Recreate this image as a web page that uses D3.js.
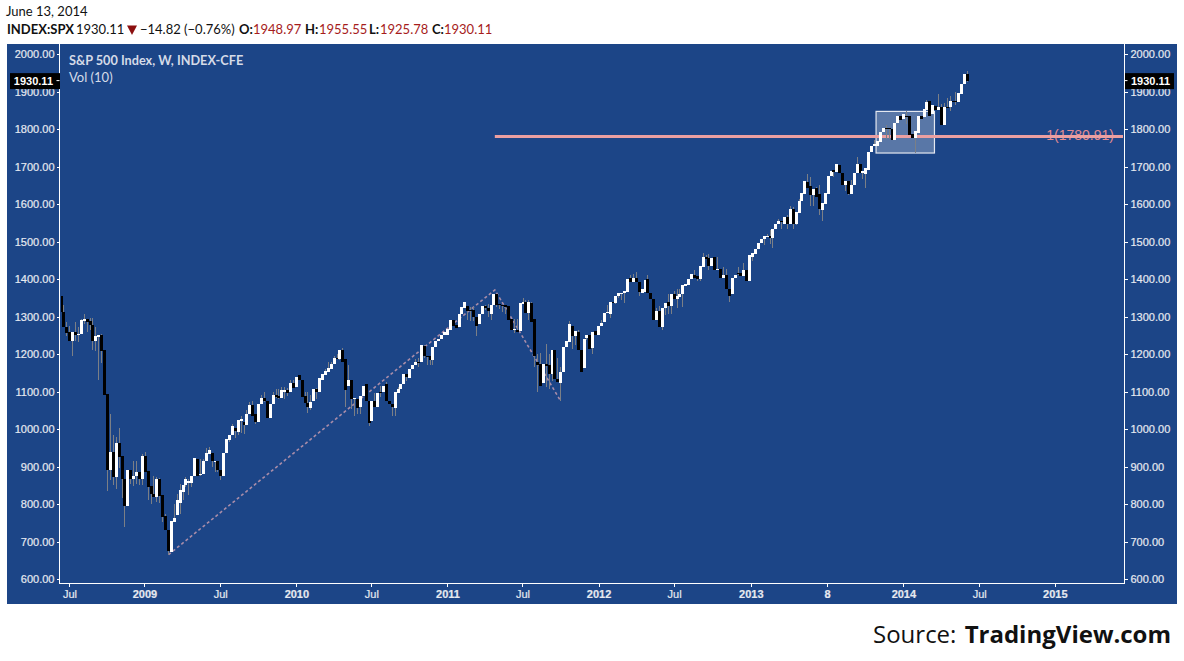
<!DOCTYPE html>
<html>
<head>
<meta charset="utf-8">
<script src="https://cdnjs.cloudflare.com/ajax/libs/d3/7.8.5/d3.min.js"></script>
<style>
  html, body { margin: 0; padding: 0; background: #fff; }
  svg { display: block; }
  .axis text { font-family: "Liberation Sans", Arial, sans-serif; font-size: 11px; fill: #e6e9f0; stroke: #e6e9f0; stroke-width: 0.2px; }
  .axis line, .axis path { stroke: #fff; shape-rendering: crispEdges; }
  .head { font-family: Lato, sans-serif; font-size: 13px; fill: #111; }
</style>
</head>
<body>
<div id="chart"></div>
<script>
// weekly S&P 500 candles
var opens = [
  1357,1314,1273,1259,1236,1259,1252,1255,1290,1295,
  1288,1279,1237,1246,1251,1211,1095,893,939,873,
  965,928,868,795,893,868,875,886,867,928,
  888,848,828,821,867,824,768,733,673,753,
  771,803,833,852,858,857,875,920,880,880,
  917,935,938,912,917,891,877,936,973,984,
  1005,993,1022,1021,1013,1040,1064,1042,1021,1068,
  1085,1077,1030,1067,1091,1090,1084,1100,1104,1099,
  1124,1113,1144,1133,1088,1070,1058,1075,1107,1099,
  1133,1145,1153,1162,1175,1191,1187,1213,1187,1117,
  1133,1080,1082,1061,1088,1120,1076,1022,1075,1061,
  1100,1101,1120,1075,1069,1057,1097,1107,1122,1147,
  1138,1162,1171,1181,1179,1222,1196,1195,1184,1220,
  1237,1241,1252,1251,1264,1291,1279,1273,1307,1324,
  1328,1319,1319,1300,1280,1308,1330,1325,1308,1332,
  1362,1335,1332,1331,1328,1295,1267,1266,1262,1334,
  1340,1310,1337,1295,1181,1175,1125,1175,1171,1148,
  1211,1135,1125,1153,1220,1232,1276,1248,1261,1212,
  1164,1244,1251,1217,1262,1253,1275,1286,1310,1307,
  1341,1337,1357,1361,1363,1366,1403,1392,1405,1394,
  1365,1366,1400,1365,1348,1291,1315,1273,1323,1339,
  1328,1360,1348,1353,1360,1382,1384,1400,1413,1408,
  1400,1433,1461,1457,1436,1459,1424,1429,1405,1411,
  1375,1360,1404,1416,1416,1409,1426,1397,1461,1468,
  1482,1498,1508,1513,1517,1511,1535,1547,1557,1548,
  1566,1547,1587,1548,1578,1609,1627,1661,1650,1626,
  1643,1627,1584,1602,1628,1675,1691,1686,1704,1685,
  1651,1662,1628,1651,1684,1709,1683,1680,1693,1739,
  1755,1756,1766,1792,1803,1803,1802,1771,1816,1837,
  1827,1837,1836,1787,1776,1790,1835,1833,1851,1875,
  1840,1862,1852,1861,1813,1861,1859,1877,1877,1872,
  1895,1920,1949
];
var closes = [
  1314,1273,1257,1236,1259,1252,1255,1293,1295,1286,
  1279,1237,1248,1251,1209,1093,893,939,873,965,
  926,867,795,893,868,877,886,867,928,886,
  846,828,821,867,822,766,731,677,755,764,
  812,839,852,867,863,875,925,877,882,917,
  936,944,915,915,891,875,936,975,984,1008,
  997,1024,1027,1011,1040,1064,1037,1020,1068,1084,
  1076,1030,1067,1091,1086,1083,1104,1104,1097,1124,
  1111,1141,1132,1086,1070,1061,1073,1107,1099,1136,
  1147,1157,1164,1175,1191,1187,1213,1181,1104,1133,
  1082,1085,1058,1088,1115,1075,1017,1075,1059,1098,
  1097,1117,1075,1067,1059,1101,1107,1122,1147,1140,
  1162,1173,1180,1179,1224,1195,1195,1184,1221,1237,
  1242,1253,1260,1267,1291,1277,1270,1307,1326,1340,
  1316,1315,1300,1276,1308,1328,1323,1315,1333,1360,
  1333,1331,1328,1326,1293,1264,1269,1261,1337,1340,
  1310,1340,1286,1195,1173,1117,1175,1168,1148,1213,
  1135,1126,1153,1221,1235,1282,1248,1262,1212,1153,
  1240,1253,1215,1261,1251,1275,1285,1311,1313,1341,
  1337,1357,1363,1365,1368,1400,1393,1405,1394,1366,
  1375,1399,1364,1348,1291,1315,1273,1323,1338,1328,
  1360,1349,1355,1360,1384,1387,1402,1415,1403,1400,
  1435,1461,1455,1436,1458,1424,1428,1405,1411,1375,
  1355,1404,1413,1414,1409,1426,1397,1464,1470,1482,
  1498,1508,1515,1517,1510,1535,1547,1557,1554,1566,
  1547,1587,1548,1579,1610,1630,1663,1644,1624,1640,
  1621,1587,1603,1630,1677,1688,1686,1707,1685,1651,
  1662,1627,1651,1684,1708,1684,1688,1698,1741,1757,
  1760,1769,1794,1803,1801,1800,1771,1816,1837,1826,
  1840,1835,1784,1776,1795,1835,1829,1855,1874,1836,
  1864,1851,1861,1811,1861,1859,1877,1873,1873,1897,
  1920,1947,1930
];
var highs = [
  1357,1333,1286,1275,1259,1287,1273,1295,1308,1295,
  1298,1298,1273,1251,1255,1211,1095,1040,984,979,
  1005,928,868,893,893,915,915,886,935,941,
  888,848,875,873,871,824,775,733,755,802,
  828,855,852,873,868,875,925,920,922,922,
  950,953,938,915,917,891,936,975,984,1015,
  1005,1024,1037,1021,1051,1073,1077,1042,1068,1091,
  1099,1077,1067,1101,1108,1108,1113,1113,1110,1131,
  1131,1141,1144,1133,1101,1101,1091,1107,1111,1136,
  1147,1162,1180,1180,1195,1202,1213,1216,1187,1171,
  1133,1085,1082,1088,1115,1120,1076,1075,1098,1098,
  1117,1117,1126,1075,1069,1101,1112,1122,1147,1147,
  1162,1173,1188,1190,1224,1224,1196,1195,1221,1237,
  1242,1253,1260,1267,1291,1291,1279,1307,1326,1340,
  1330,1326,1326,1300,1309,1328,1331,1335,1333,1360,
  1362,1335,1332,1331,1328,1295,1295,1295,1337,1351,
  1345,1345,1340,1295,1202,1204,1175,1227,1200,1213,
  1211,1191,1166,1221,1235,1289,1276,1262,1264,1212,
  1240,1253,1251,1261,1262,1275,1291,1311,1331,1341,
  1341,1357,1363,1365,1368,1400,1411,1415,1419,1394,
  1375,1399,1413,1365,1348,1324,1330,1323,1338,1360,
  1360,1370,1375,1375,1384,1387,1402,1415,1424,1408,
  1435,1471,1464,1468,1458,1459,1461,1429,1433,1428,
  1375,1404,1413,1433,1416,1444,1426,1464,1470,1482,
  1498,1508,1515,1520,1532,1535,1547,1560,1557,1566,
  1571,1595,1593,1579,1615,1630,1663,1682,1673,1640,
  1646,1651,1603,1630,1677,1688,1691,1707,1704,1685,
  1662,1662,1666,1684,1726,1709,1688,1698,1741,1757,
  1772,1769,1794,1803,1811,1803,1802,1816,1837,1837,
  1840,1848,1836,1787,1795,1835,1835,1855,1879,1875,
  1864,1862,1895,1868,1870,1884,1888,1877,1900,1897,
  1920,1947,1955
];
var lows = [
  1314,1273,1248,1236,1197,1237,1233,1255,1282,1259,
  1264,1212,1209,1132,1177,1093,837,864,851,842,
  897,817,739,795,855,849,855,853,853,886,
  812,802,820,806,804,753,731,666,673,753,
  771,775,812,846,824,846,875,877,877,880,
  917,935,901,886,886,866,877,936,966,984,
  977,985,990,988,1013,1040,1037,1015,1021,1068,
  1073,1030,1030,1067,1083,1082,1084,1082,1090,1099,
  1111,1113,1132,1086,1070,1044,1051,1075,1082,1099,
  1133,1145,1153,1162,1175,1187,1184,1181,1061,1117,
  1055,1037,1040,1040,1088,1075,1008,1022,1059,1061,
  1086,1101,1075,1067,1037,1037,1097,1107,1122,1129,
  1138,1162,1171,1167,1179,1190,1173,1173,1171,1220,
  1237,1241,1252,1251,1264,1277,1270,1273,1307,1324,
  1291,1288,1288,1249,1280,1308,1318,1300,1291,1332,
  1326,1322,1313,1308,1293,1264,1257,1261,1262,1334,
  1310,1292,1286,1166,1100,1117,1125,1113,1108,1130,
  1135,1126,1075,1153,1220,1232,1215,1224,1212,1153,
  1164,1239,1215,1200,1251,1253,1275,1286,1310,1298,
  1337,1335,1350,1345,1337,1366,1393,1392,1394,1355,
  1365,1366,1364,1348,1291,1291,1273,1264,1304,1307,
  1307,1349,1323,1353,1326,1382,1384,1400,1403,1395,
  1397,1433,1455,1426,1436,1424,1424,1405,1405,1375,
  1341,1360,1404,1412,1409,1409,1397,1397,1449,1468,
  1482,1498,1491,1513,1495,1483,1535,1547,1535,1548,
  1535,1547,1535,1544,1578,1609,1627,1644,1596,1596,
  1621,1573,1557,1602,1628,1675,1673,1686,1685,1651,
  1637,1624,1628,1651,1684,1684,1667,1643,1693,1739,
  1755,1756,1766,1792,1775,1775,1771,1771,1816,1826,
  1827,1815,1784,1776,1737,1790,1829,1833,1851,1836,
  1840,1851,1852,1811,1813,1859,1849,1873,1864,1872,
  1895,1920,1926
];

// axis ticks, x positions are week numbers counted from the first candle
var priceTicks = [600,700,800,900,1000,1100,1200,1300,1400,1500,1600,1700,1800,1900,2000];
var weekTicks = [2.9,28.7,54.8,81,106.8,133,158.8,185,211,237.4,263.6,289.9,316,342];
var weekLabels = ["Jul","2009","Jul","2010","Jul","2011","Jul","2012","Jul","2013","8","2014","Jul","2015"];

// drawings on top of the chart: [week, price]
var trendPoints = [[37,666],[149.3,1372],[172,1075]];
var levelWeek = 149.3;
var levelPrice = 1780.91;
var boxWeeks = [280.5,300.6];
var boxPrices = [1737,1848];
var lastClose = 1930.11;

var width = 1184, height = 661;

var svg = d3.select("#chart").append("svg")
  .attr("width", width)
  .attr("height", height);

// blue panel
svg.append("rect")
  .attr("x", 7).attr("y", 44)
  .attr("width", 1170).attr("height", 560)
  .attr("fill", "#1c4587");

var x = d3.scaleLinear().domain([0, 366]).range([61, 1124.5]);
var y = d3.scaleLinear().domain([600, 2000]).range([579.4, 54.4]);

svg.append("clipPath").attr("id", "plot")
  .append("rect")
  .attr("x", 61).attr("y", 44)
  .attr("width", 1063).attr("height", 539);

var plot = svg.append("g").attr("clip-path", "url(#plot)");

// highlighted box, goes under the candles
plot.append("rect")
  .attr("x", x(boxWeeks[0]))
  .attr("y", y(boxPrices[1]))
  .attr("width", x(boxWeeks[1]) - x(boxWeeks[0]))
  .attr("height", y(boxPrices[0]) - y(boxPrices[1]))
  .attr("fill", "rgba(255,255,255,0.27)")
  .attr("stroke", "#e4e8f0")
  .attr("stroke-width", 1.2);

// level label first so the line crosses it
plot.append("text")
  .attr("x", 1114)
  .attr("y", y(levelPrice) + 3.5)
  .attr("text-anchor", "end")
  .attr("font-family", "Liberation Sans, Arial, sans-serif")
  .attr("font-size", 14)
  .attr("fill", "#e38c92")
  .text("1(" + levelPrice.toFixed(2) + ")");

plot.append("line")
  .attr("x1", x(levelWeek)).attr("x2", 1123)
  .attr("y1", y(levelPrice)).attr("y2", y(levelPrice))
  .attr("stroke", "#eb9fa1")
  .attr("stroke-width", 3);

var trend = d3.line()
  .x(function(d) { return x(d[0]); })
  .y(function(d) { return y(d[1]); });

plot.append("path")
  .attr("d", trend(trendPoints))
  .attr("fill", "none")
  .attr("stroke", "#a98da9")
  .attr("stroke-width", 1.6)
  .attr("stroke-dasharray", "3,2.5");

// candles, snapped to whole pixels like the original
function barLeft(i) { return Math.round(x(i) - 1.5); }

var bars = plot.selectAll(".bar")
  .data(closes)
  .enter().append("g")
  .attr("class", "bar")
  .attr("shape-rendering", "crispEdges");

bars.append("line")
  .attr("x1", function(d, i) { return barLeft(i) + 1.5; })
  .attr("x2", function(d, i) { return barLeft(i) + 1.5; })
  .attr("y1", function(d, i) { return y(highs[i]); })
  .attr("y2", function(d, i) { return y(lows[i]); })
  .attr("stroke", "#7b7f86")
  .attr("stroke-width", 1);

bars.append("rect")
  .attr("x", function(d, i) { return barLeft(i); })
  .attr("width", 3)
  .attr("y", function(d, i) { return y(Math.max(opens[i], closes[i])); })
  .attr("height", function(d, i) { return Math.max(1, Math.abs(y(opens[i]) - y(closes[i]))); })
  .attr("fill", function(d, i) { return closes[i] >= opens[i] ? "#fff" : "#000"; });

// axes
var fmt = d3.format(".2f");

var leftAxis = svg.append("g")
  .attr("class", "axis")
  .attr("transform", "translate(59.5,0)")
  .call(d3.axisLeft(y).tickValues(priceTicks).tickFormat(fmt).tickSize(3).tickPadding(2));
leftAxis.select(".domain").remove();

var rightAxis = svg.append("g")
  .attr("class", "axis")
  .attr("transform", "translate(1124.5,0)")
  .call(d3.axisRight(y).tickValues(priceTicks).tickFormat(fmt).tickSize(3).tickPadding(3));
rightAxis.select(".domain").remove();

var bottomAxis = svg.append("g")
  .attr("class", "axis")
  .attr("transform", "translate(0,583.5)")
  .call(d3.axisBottom(x).tickValues(weekTicks)
    .tickFormat(function(d, i) { return weekLabels[i]; })
    .tickSize(3).tickPadding(4));
bottomAxis.select(".domain").remove();
bottomAxis.selectAll("text")
  .style("font-weight", function(d, i) { return weekLabels[i] === "Jul" ? "normal" : "bold"; });

// frame lines of the plot
var frame = svg.append("g").attr("stroke", "#fff").attr("shape-rendering", "crispEdges");
frame.append("line").attr("x1", 59.5).attr("x2", 59.5).attr("y1", 44).attr("y2", 583.5);
frame.append("line").attr("x1", 1124.5).attr("x2", 1124.5).attr("y1", 44).attr("y2", 583.5);
frame.append("line").attr("x1", 59.5).attr("x2", 1124.5).attr("y1", 583.5).attr("y2", 583.5);

// last price tags
[[10, 50, 53, "end"], [1125, 49, 1131, "start"]].forEach(function(t) {
  svg.append("rect")
    .attr("x", t[0]).attr("y", y(lastClose) - 7.5)
    .attr("width", t[1]).attr("height", 16)
    .attr("fill", "#000");
  svg.append("text")
    .attr("x", t[2]).attr("y", y(lastClose) + 4.5)
    .attr("text-anchor", t[3])
    .attr("font-family", "Liberation Sans, Arial, sans-serif")
    .attr("font-size", 11)
    .attr("font-weight", "bold")
    .attr("fill", "#fff")
    .text(fmt(lastClose));
});
svg.append("line").attr("x1", 56.5).attr("x2", 59.5)
  .attr("y1", y(lastClose)).attr("y2", y(lastClose)).attr("stroke", "#fff");
svg.append("line").attr("x1", 1124.5).attr("x2", 1127.5)
  .attr("y1", y(lastClose)).attr("y2", y(lastClose)).attr("stroke", "#fff");

// legend inside the plot
svg.append("text").attr("class", "head")
  .attr("x", 69).attr("y", 65)
  .attr("font-weight", "bold")
  .style("font-size", "12.7px")
  .style("fill", "#d5dbe7")
  .text("S&P 500 Index, W, INDEX-CFE");
svg.append("text").attr("class", "head")
  .attr("x", 69).attr("y", 82)
  .style("fill", "#d5dbe7")
  .text("Vol (10)");

// header lines
svg.append("text").attr("class", "head").attr("x", 6).attr("y", 16).text("June 13, 2014");

var red = "#a61c1c";
var headerBits = [
  {x: 7, text: "INDEX:SPX", bold: true},
  {x: 76, text: "1930.11"},
  {x: 140, text: "\u221214.82 (\u22120.76%)"},
  {x: 239, text: "O:", bold: true},
  {x: 253, text: "1948.97", fill: red},
  {x: 305, text: "H:", bold: true},
  {x: 319, text: "1955.55", fill: red},
  {x: 369, text: "L:", bold: true},
  {x: 380, text: "1925.78", fill: red},
  {x: 432, text: "C:", bold: true},
  {x: 444, text: "1930.11", fill: red}
];
svg.selectAll(".bit")
  .data(headerBits)
  .enter().append("text")
  .attr("class", "head bit")
  .attr("x", function(d) { return d.x; })
  .attr("y", 33.5)
  .attr("font-weight", function(d) { return d.bold ? "bold" : "normal"; })
  .style("fill", function(d) { return d.fill || "#111"; })
  .text(function(d) { return d.text; });

// down arrow in the header
svg.append("path")
  .attr("d", "M127,25.5L137,25.5L132,35Z")
  .attr("fill", "#8b0f0f");

// source line
var src = svg.append("text")
  .attr("x", 873).attr("y", 643)
  .attr("font-family", "Open Sans, sans-serif")
  .attr("font-size", 24)
  .attr("fill", "#111");
src.append("tspan").text("Source: ");
src.append("tspan").attr("font-weight", "bold").attr("dx", 2).text("TradingView.com");
</script>
</body>
</html>
